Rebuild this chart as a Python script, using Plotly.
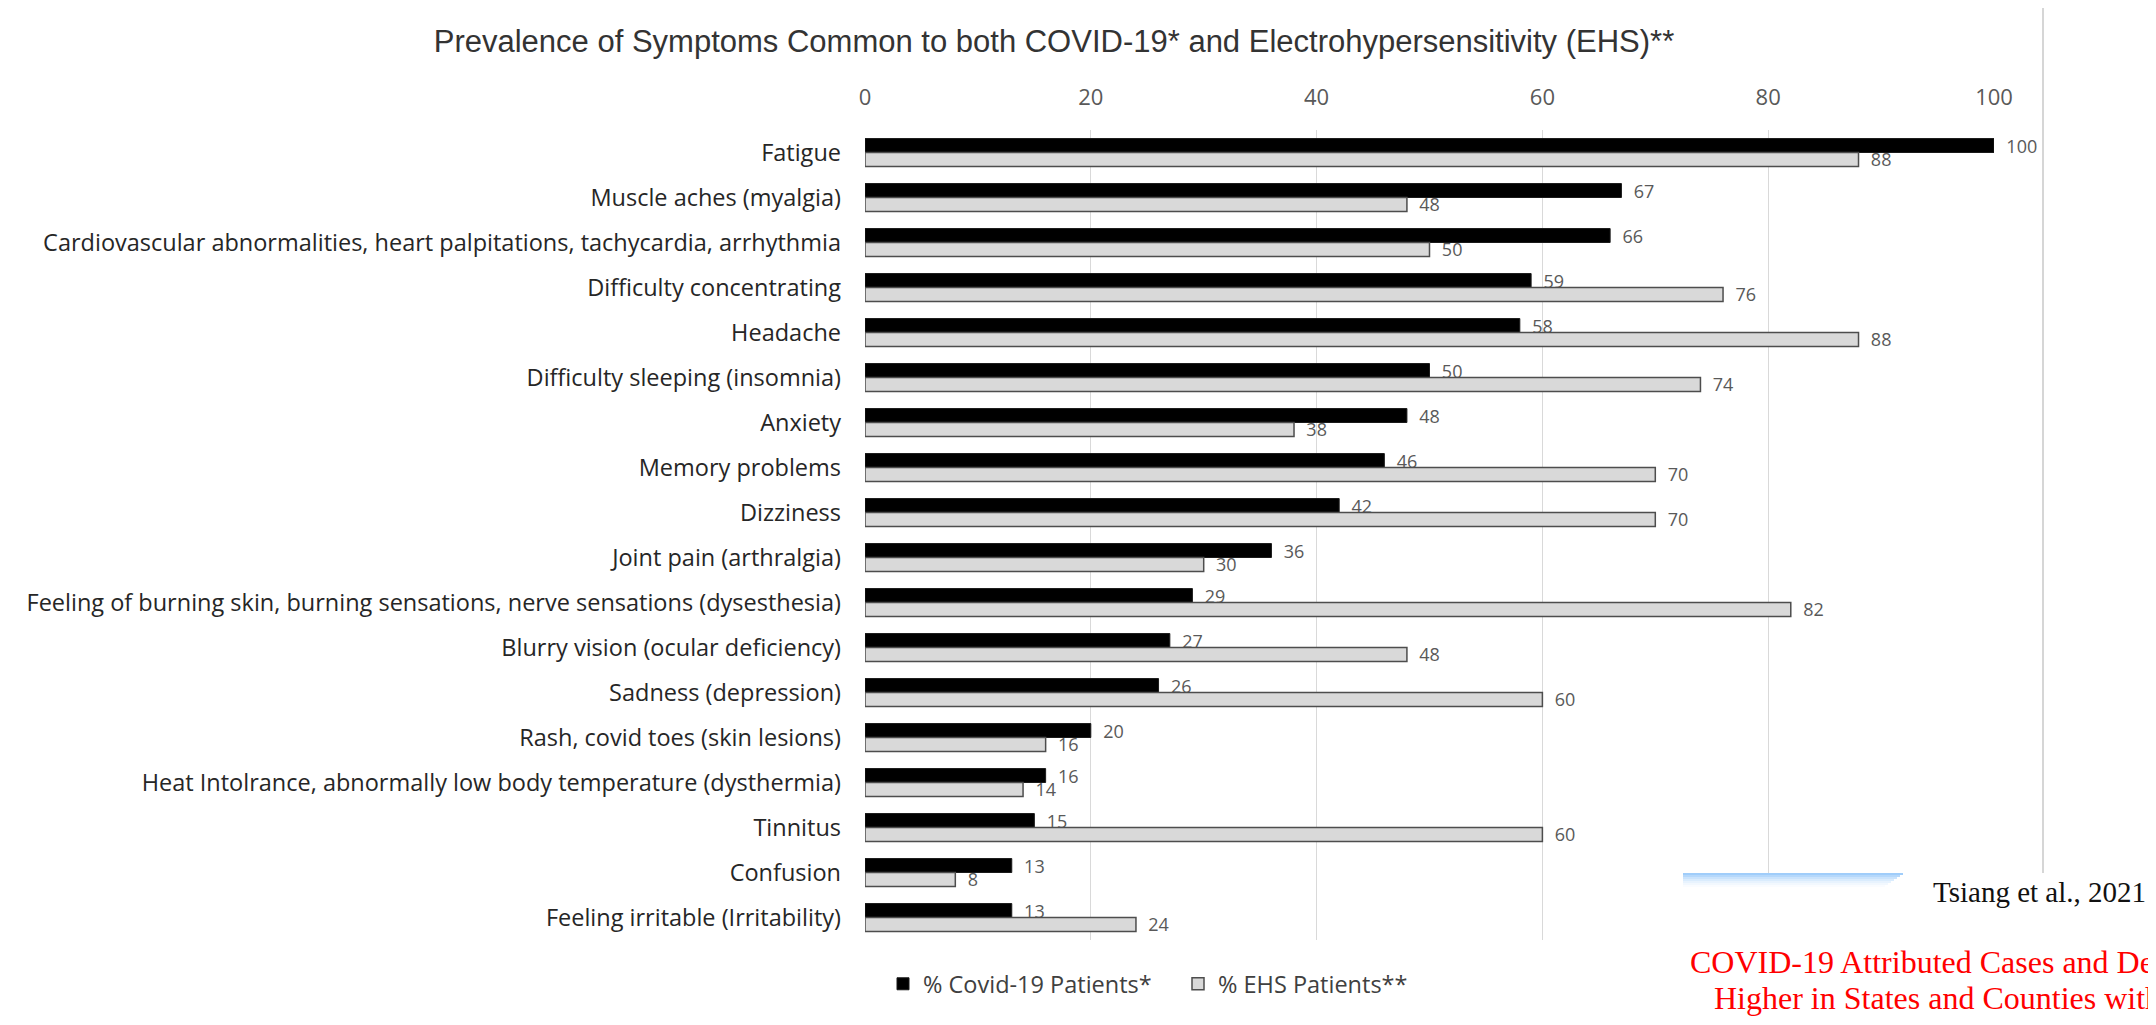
import plotly.graph_objects as go

categories = [
    "Fatigue",
    "Muscle aches (myalgia)",
    "Cardiovascular abnormalities, heart palpitations, tachycardia, arrhythmia",
    "Difficulty concentrating",
    "Headache",
    "Difficulty sleeping (insomnia)",
    "Anxiety",
    "Memory problems",
    "Dizziness",
    "Joint pain (arthralgia)",
    "Feeling of burning skin, burning sensations, nerve sensations (dysesthesia)",
    "Blurry vision (ocular deficiency)",
    "Sadness (depression)",
    "Rash, covid toes (skin lesions)",
    "Heat Intolrance, abnormally low body temperature (dysthermia)",
    "Tinnitus",
    "Confusion",
    "Feeling irritable (Irritability)",
]
covid_pct = [100, 67, 66, 59, 58, 50, 48, 46, 42, 36, 29, 27, 26, 20, 16, 15, 13, 13]
ehs_pct = [88, 48, 50, 76, 88, 74, 38, 70, 70, 30, 82, 48, 60, 16, 14, 60, 8, 24]
x_ticks = [0, 20, 40, 60, 80, 100]

title_text = "Prevalence of Symptoms Common to both COVID-19* and Electrohypersensitivity (EHS)**"
source_text = "Tsiang et al., 2021"
red_lines = [
    "COVID-19 Attributed Cases and Deaths are Statistically",
    "Higher in States and Counties with 5th Generation",
    "Millimeter Wave Wireless Telecommunications in the United States",
]

# page geometry (reference pixels); the browser body adds an 8px margin
W, H, OFF = 2156, 1025, 8
FW, FH = W - OFF, H - OFF
L, R, T, B = 865, 1994, 130, 940


def px(xp):
    return (xp - L) / (R - L)


def py(yp):
    return (B - yp) / (B - T)


label_font = "Open Sans"

fig = go.Figure()
fig.add_trace(go.Bar(
    y=categories, x=covid_pct, orientation="h", name="% Covid-19 Patients*",
    marker=dict(color="#000000", line=dict(color="#1a1a1a", width=1)),
    texttemplate="\u00a0\u00a0%{x}", textposition="outside", constraintext="none",
    textfont=dict(family=label_font, size=18, color="#595959"), cliponaxis=False,
))
fig.add_trace(go.Bar(
    y=categories, x=ehs_pct, orientation="h", name="% EHS Patients**",
    marker=dict(color="#d9d9d9", line=dict(color="#4d4d4d", width=1.5)),
    texttemplate="\u00a0\u00a0%{x}", textposition="outside", constraintext="none",
    textfont=dict(family=label_font, size=18, color="#595959"), cliponaxis=False,
))

shapes = []
shapes.append(dict(type="rect", xref="paper", yref="paper", x0=px(0), x1=px(W), y0=py(0), y1=py(5),
                   fillcolor="#e6e6e6", line=dict(width=0), layer="above"))
shapes.append(dict(type="line", xref="paper", yref="paper", x0=px(6), x1=px(6), y0=py(6), y1=py(W),
                   line=dict(color="#555555", width=2), layer="above"))
shapes.append(dict(type="line", xref="paper", yref="paper", x0=px(2043), x1=px(2043), y0=py(5), y1=py(873),
                   line=dict(color="#d6d6d6", width=2), layer="above"))
shapes.append(dict(type="rect", xref="paper", yref="paper", x0=px(1683), x1=px(W + 5), y0=py(873), y1=py(H + 5),
                   fillcolor="#ffffff", line=dict(width=0), layer="above"))
for i, op in enumerate([0.9, 0.7, 0.5, 0.35, 0.22, 0.12, 0.05]):
    shapes.append(dict(type="rect", xref="paper", yref="paper", x0=px(1683), x1=px(1903 - i * 3),
                       y0=py(873 + i * 2), y1=py(875 + i * 2),
                       fillcolor="rgba(150,200,250,%.2f)" % op, line=dict(width=0), layer="above"))

annotations = [
    dict(text=source_text, xref="paper", yref="paper", x=px(1931), y=py(892), xanchor="left", yanchor="middle",
         showarrow=False, font=dict(family="Liberation Serif", size=29, color="#111111")),
]
red_pos = [(1688, 962), (1712, 998), (1700, 1036)]
for (lx, ly), line in zip(red_pos, red_lines):
    annotations.append(dict(text=line, xref="paper", yref="paper", x=px(lx), y=py(ly), xanchor="left",
                            yanchor="middle", showarrow=False,
                            font=dict(family="Liberation Serif", size=32, color="#ff0000")))

fig.update_layout(
    width=FW, height=FH,
    margin=dict(l=L - OFF, r=W - R, t=T - OFF, b=H - B, pad=0),
    paper_bgcolor="white", plot_bgcolor="white",
    barmode="group", bargap=0.38, bargroupgap=0,
    title=dict(text=title_text, x=(1054 - OFF) / FW, xanchor="center", y=1 - (41 - OFF) / FH, yanchor="middle",
               xref="container", yref="container",
               font=dict(family="Liberation Sans", size=31, color="#333333")),
    xaxis=dict(side="top", range=[0, 100], tickvals=x_ticks, ticktext=[str(v) for v in x_ticks],
               showgrid=True, gridcolor="#d9d9d9", gridwidth=1, zeroline=False, showline=False,
               tickfont=dict(family="Open Sans", size=22, color="#595959"), ticks="",
               ticklabelstandoff=20),
    yaxis=dict(autorange="reversed", showgrid=False, zeroline=False, showline=False, ticks="",
               tickfont=dict(family=label_font, size=23.5, color="#262626"), ticklabelstandoff=23),
    legend=dict(orientation="h", x=px(1178), xanchor="center", y=py(984), yanchor="middle",
                font=dict(family=label_font, size=23.5, color="#404040"), itemwidth=30, traceorder="normal",
                entrywidth=250, bgcolor="rgba(0,0,0,0)"),
    shapes=shapes,
    annotations=annotations,
    showlegend=True,
)

fig.write_html("out.html")
